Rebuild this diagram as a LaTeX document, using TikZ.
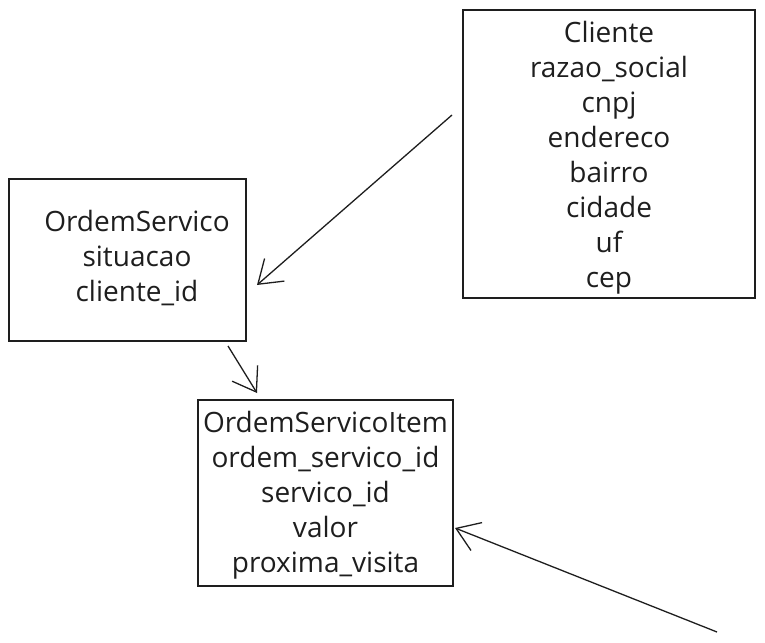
\documentclass[tikz,border=0pt]{standalone}
\usepackage{fontspec}
\setmainfont{Open Sans}
\usetikzlibrary{arrows.meta}
\definecolor{ink}{HTML}{1E1E1E}
\tikzset{
  entity/.style={draw=ink, line width=1.3pt, inner sep=0pt, minimum width=0pt},
  label/.style={text=ink, align=center, inner sep=0pt, font=\fontsize{28}{35}\selectfont},
  rel/.style={draw=ink, line width=1.3pt, -{Straight Barb[length=22pt,width=30pt,line width=1.3pt]}}
}
\begin{document}
\begin{tikzpicture}[x=1pt,y=-1pt]
\useasboundingbox (0,0) rectangle (765,642);
\node[entity, minimum width=292pt, minimum height=288pt] (cli) at (609,154) {};
\node[label] (clit) at (609,158)
  {Cliente\\razao\_social\\cnpj\\endereco\\bairro\\cidade\\uf\\cep};
\node[entity, minimum width=237pt, minimum height=162pt] (os) at (127.5,260) {};
\node[label] (ost) at (137,258)
  {OrdemServico\\situacao\\cliente\_id};
\node[entity, minimum width=255pt, minimum height=186pt] (osi) at (325.5,493) {};
\node[label] (osit) at (325.5,495)
  {OrdemServicoItem\\ordem\_servico\_id\\servico\_id\\valor\\proxima\_visita};
\coordinate (c1) at (452,115);
\coordinate (e1) at (257,285);
\coordinate (c2) at (228,346);
\coordinate (e2) at (257,393);
\coordinate (c3) at (717,632);
\coordinate (e3) at (455,528);
\draw[rel] (c1) -- (e1);
\draw[rel] (c2) -- (e2);
\draw[rel] (c3) -- (e3);
\end{tikzpicture}
\end{document}
